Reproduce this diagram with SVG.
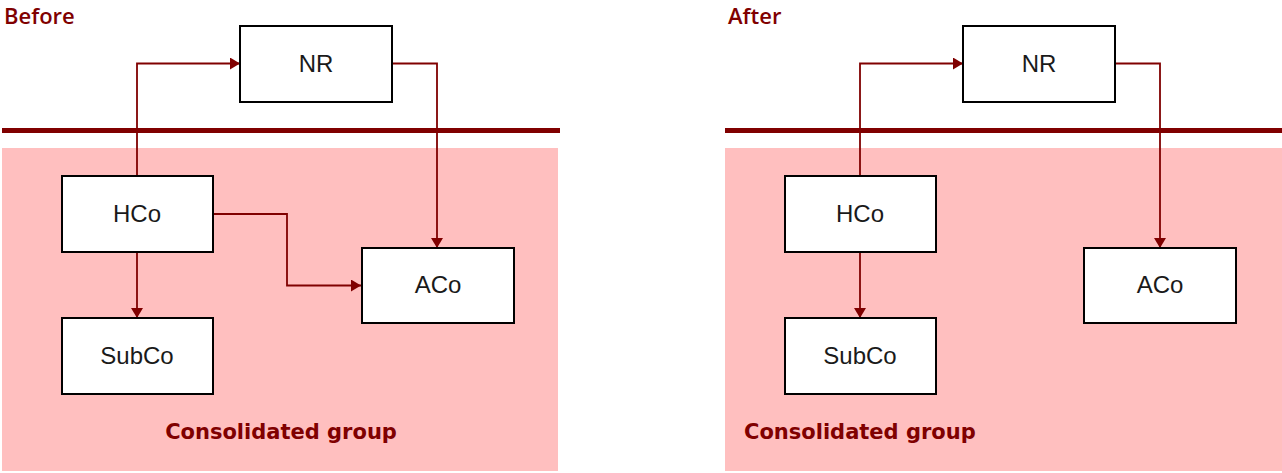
<svg xmlns="http://www.w3.org/2000/svg" width="1282" height="473" viewBox="0 0 1282 473">
<style>
.bg{fill:#ffbfbf}
.bar{stroke:#800000;stroke-width:5}
.box{fill:#fff;stroke:#000;stroke-width:2}
.lbl{font-family:"Liberation Sans",Arial,sans-serif;font-size:24px;fill:#1a1a1a;text-anchor:middle;dominant-baseline:central}
.head{font-family:"Open Sans","Liberation Sans",sans-serif;font-weight:600;font-size:22px;fill:#800000}
.title{font-family:"DejaVu Sans",sans-serif;font-weight:bold;font-size:21px;fill:#800000}
.conn{fill:none;stroke:#800000;stroke-width:1.8}
</style>
<defs>
<marker id="ah" viewBox="0 0 10 12" refX="10" refY="6" markerWidth="10" markerHeight="12" markerUnits="userSpaceOnUse" orient="auto">
<path d="M0,0 L10,6 L0,12 Z" fill="#800000"/>
</marker>
</defs>
<rect class="bg" x="2" y="148" width="556" height="323"/>
<rect class="bg" x="725" y="148" width="557" height="323"/>
<line class="bar" x1="2" y1="130.5" x2="560" y2="130.5"/>
<line class="bar" x1="725" y1="130.5" x2="1282" y2="130.5"/>
<text class="head" x="4" y="24">Before</text>
<text class="head" x="728" y="24">After</text>
<text class="title" x="281" y="439" text-anchor="middle">Consolidated group</text>
<text class="title" x="744" y="439">Consolidated group</text>
<g id="connectors">
<path class="conn" d="M137,176 V63.5 H240" marker-end="url(#ah)"/>
<path class="conn" d="M392,63.5 H437 V248" marker-end="url(#ah)"/>
<path class="conn" d="M213,214 H287 V285.5 H361" marker-end="url(#ah)"/>
<path class="conn" d="M137,252 V318" marker-end="url(#ah)"/>
<path class="conn" d="M860,176 V63.5 H963" marker-end="url(#ah)"/>
<path class="conn" d="M1115,63.5 H1160 V248" marker-end="url(#ah)"/>
<path class="conn" d="M860,252 V318" marker-end="url(#ah)"/>
</g>
<g id="nr-before"><rect class="box" x="240" y="26" width="152" height="76"/><text class="lbl" x="316" y="63">NR</text></g>
<g id="hco-before"><rect class="box" x="62" y="176" width="151" height="76"/><text class="lbl" x="137" y="213">HCo</text></g>
<g id="subco-before"><rect class="box" x="62" y="318" width="151" height="76"/><text class="lbl" x="137" y="355">SubCo</text></g>
<g id="aco-before"><rect class="box" x="362" y="248" width="152" height="75"/><text class="lbl" x="438" y="284">ACo</text></g>
<g id="nr-after"><rect class="box" x="963" y="26" width="152" height="76"/><text class="lbl" x="1039" y="63">NR</text></g>
<g id="hco-after"><rect class="box" x="785" y="176" width="151" height="76"/><text class="lbl" x="860" y="213">HCo</text></g>
<g id="subco-after"><rect class="box" x="785" y="318" width="151" height="76"/><text class="lbl" x="860" y="355">SubCo</text></g>
<g id="aco-after"><rect class="box" x="1084" y="248" width="152" height="75"/><text class="lbl" x="1160" y="284">ACo</text></g>
</svg>
